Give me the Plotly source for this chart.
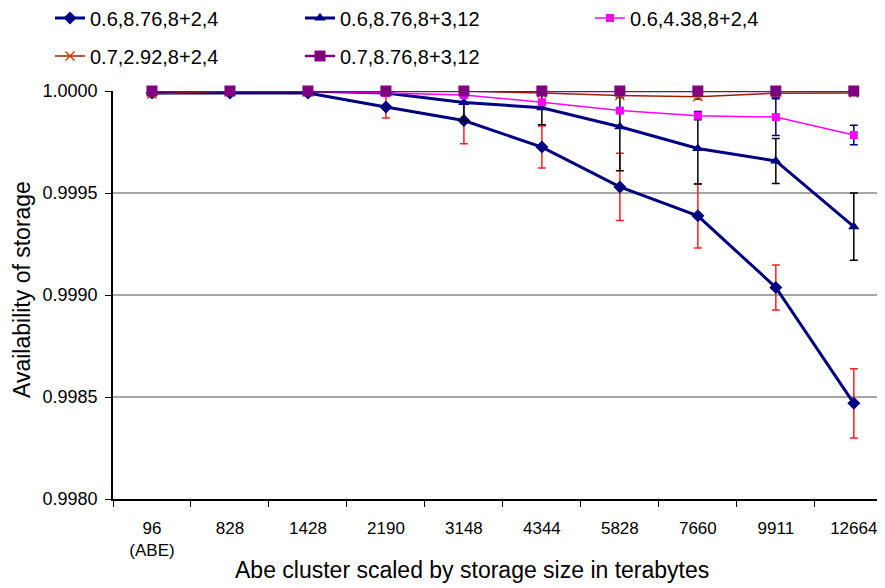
import plotly.graph_objects as go

categories = ["96<br>(ABE)", "828", "1428", "2190", "3148", "4344", "5828", "7660", "9911", "12664"]

names = ["0.6,8.76,8+2,4", "0.6,8.76,8+3,12", "0.6,4.38,8+2,4", "0.7,2.92,8+2,4", "0.7,8.76,8+3,12"]

s1 = [0.99999, 0.99999, 0.99999, 0.999922, 0.999855, 0.999725, 0.99953, 0.999388, 0.999037, 0.998469]
s1_err = [0.00001, 0.00001, 0.00001, 0.000054, 0.000113, 0.000103, 0.000165, 0.000157, 0.00011, 0.00017]

s2 = [1.0, 1.0, 1.0, 0.99999, 0.999944, 0.999918, 0.999825, 0.999718, 0.999657, 0.999335]
s2_err = [0.0, 0.0, 0.0, 0.00001, 0.000088, 0.000083, 0.000216, 0.000174, 0.00011, 0.000165]

s3 = [1.0, 1.0, 1.0, 0.99999, 0.99998, 0.999945, 0.999904, 0.999879, 0.999872, 0.999784]
s3_err = [0.0, 0.0, 0.0, 0.0, 0.000005, 0.00001, 0.00001, 0.00002, 0.00009, 0.0000475]

s4 = [0.999985, 1.0, 1.0, 1.0, 1.0, 0.99999, 0.999978, 0.999972, 0.999989, 0.99999]
s4_err = [0.000012, 0.0, 0.0, 0.0, 0.0, 0.00001, 0.00001, 0.000012, 0.00002, 0.000005]

s5 = [1.0, 1.0, 1.0, 1.0, 1.0, 1.0, 1.0, 1.0, 1.0, 1.0]

y_ticks = [0.9980, 0.9985, 0.9990, 0.9995, 1.0000]

FONT = "Liberation Sans, Arial, sans-serif"
OFF = 8  # page body margin
W, H = 885 - OFF, 588 - OFF
PL, PT, PB = 113 - OFF, 91 - OFF, 499 - OFF  # plot area edges in figure px
PW, PH = W - PL, PB - PT

fig = go.Figure()

specs = [
    dict(y=s1, err=s1_err, color="#000080", width=3, symbol="diamond", msize=10,
         mcolor="#000080", ecolor="#FF2020", legend="legend"),
    dict(y=s2, err=s2_err, color="#000080", width=3, symbol="triangle-up", msize=10,
         mcolor="#000080", ecolor="#000000", legend="legend2"),
    dict(y=s3, err=s3_err, color="#FF00FF", width=1.5, symbol="square", msize=8,
         mcolor="#FF00FF", ecolor="#000080", legend="legend3"),
    dict(y=s4, err=s4_err, color="#992200", width=1.5, symbol="x-thin", msize=9,
         mcolor="#CC4400", ecolor="#333333", legend="legend4"),
    dict(y=s5, err=None, color="#800080", width=2.5, symbol="square", msize=11,
         mcolor="#800080", ecolor="#800080", legend="legend5"),
]

for name, sp in zip(names, specs):
    marker = dict(symbol=sp["symbol"], size=sp["msize"], color=sp["mcolor"])
    if sp["symbol"] == "x-thin":
        marker["line"] = dict(color=sp["mcolor"], width=1.5)
    err = None
    if sp["err"] is not None:
        err = dict(type="data", array=sp["err"], visible=True, color=sp["ecolor"],
                   thickness=1.5, width=4)
    fig.add_trace(go.Scatter(
        x=categories, y=sp["y"], name=name, mode="lines+markers",
        line=dict(color=sp["color"], width=sp["width"]),
        marker=marker, error_y=err, cliponaxis=False,
        legend=sp["legend"], showlegend=True,
    ))

def leg(xpx, ypx):
    return dict(xref="container", yref="container", x=(xpx - OFF) / W, y=1 - (ypx - OFF) / H,
                xanchor="left", yanchor="middle", bgcolor="rgba(0,0,0,0)",
                font=dict(family=FONT, size=20, color="#000000"),
                itemwidth=30, borderwidth=0, visible=True)

fig.update_layout(
    width=W, height=H, showlegend=True,
    margin=dict(l=PL, r=0, t=PT, b=H - PB, autoexpand=False),
    paper_bgcolor="white", plot_bgcolor="white",
    font=dict(family=FONT, color="#000000"),
    legend=leg(50, 18),
    legend2=leg(300, 18),
    legend3=leg(590, 18),
    legend4=leg(50, 56),
    legend5=leg(300, 56),
    xaxis=dict(
        type="category", range=[-0.5, 9.4], tickson="boundaries",
        showline=True, linecolor="#000000", linewidth=1.5,
        ticks="outside", ticklen=6, tickcolor="#000000",
        showgrid=False, tickfont=dict(size=17, family=FONT),
        ticklabelstandoff=13,
        zeroline=False, automargin=False,
    ),
    yaxis=dict(
        range=[0.998, 1.0], tickvals=y_ticks, tickformat=".4f",
        showline=True, linecolor="#000000", linewidth=1.5,
        ticks="outside", ticklen=6, tickcolor="#000000",
        showgrid=True, gridcolor="#A6A6A6", gridwidth=1.5,
        ticklabelstandoff=4,
        tickfont=dict(size=18, family=FONT), zeroline=False, automargin=False,
    ),
    annotations=[
        dict(text="Abe cluster scaled by storage size in terabytes", xref="paper", yref="paper",
             x=(472 - 113) / PW, y=-(570 - 499) / PH, xanchor="center", yanchor="middle",
             showarrow=False, font=dict(size=23, family=FONT)),
        dict(text="Availability of storage", xref="paper", yref="paper",
             x=(22 - 113) / PW, y=(499 - 290) / PH, xanchor="center", yanchor="middle",
             textangle=-90, showarrow=False, font=dict(size=23, family=FONT)),
    ],
)

fig.write_html("out.html")
